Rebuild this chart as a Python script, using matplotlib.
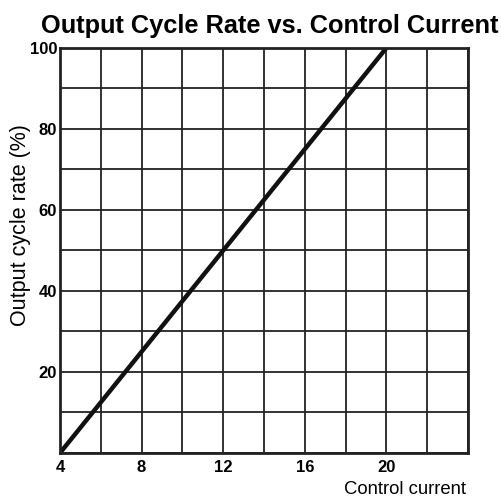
import matplotlib
matplotlib.use("Agg")
import matplotlib.pyplot as plt

plt.rcParams['font.family'] = ['Liberation Sans', 'DejaVu Sans']

control_current = [4, 20]
output_rate = [0, 100]
x_ticks = [4, 8, 12, 16, 20]
y_ticks = [20, 40, 60, 80, 100]

fig = plt.figure(figsize=(5.02, 4.98), dpi=100)
ax = fig.add_axes([0.1195, 0.0904, 0.8127, 0.8133])

ax.set_xlim(4, 24)
ax.set_ylim(0, 100)
ax.set_xticks(range(4, 25, 2), minor=True)
ax.set_yticks(range(0, 101, 10), minor=True)
ax.set_xticks(x_ticks)
ax.set_yticks(y_ticks)
ax.grid(True, which='both', color='#222222', linewidth=1.3)
ax.set_axisbelow(True)
ax.tick_params(which='both', length=0)
ax.tick_params(axis='x', pad=5)
ax.tick_params(axis='y', pad=2)
for lbl in ax.get_xticklabels() + ax.get_yticklabels():
    lbl.set_fontweight('bold')
    lbl.set_fontsize(12)
for s in ax.spines.values():
    s.set_linewidth(2)
    s.set_color('#222222')

ax.plot(control_current, output_rate, color='#111111', linewidth=3.2, solid_capstyle='butt')

fig.text(0.04, 0.548, 'Output cycle rate (%)', rotation=90, ha='center', va='center', fontsize=15.5)
fig.text(0.928, 0.008, 'Control current', ha='right', va='baseline', fontsize=13.3)
fig.text(0.537, 0.934, 'Output Cycle Rate vs. Control Current', ha='center', va='baseline',
         fontsize=18.3, fontweight='bold')

fig.savefig('out.png', dpi=100)
